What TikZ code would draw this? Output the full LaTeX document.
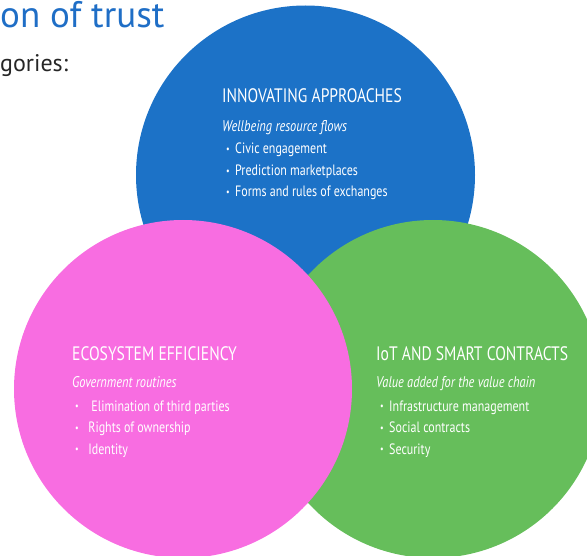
\documentclass[tikz,border=0pt]{standalone}
\usepackage{fontspec}
\setmainfont[FakeStretch=0.8]{PT Sans}
\newfontfamily\wideface{PT Sans}
\definecolor{innoblue}{HTML}{1C72C7}
\definecolor{ecopink}{HTML}{F86DE1}
\definecolor{iotgreen}{HTML}{66BE5B}
\definecolor{titleblue}{HTML}{1F6EC6}
\newcommand{\itemdot}[1][9]{\makebox[#1pt][l]{\raisebox{1.2pt}{\fontsize{10}{10}\selectfont\textbullet}}}

\begin{document}
\begin{tikzpicture}[x=1pt, y=-1pt,
    head/.style={anchor=base west, text=white, inner sep=0pt, font=\fontsize{19.5}{19.5}\selectfont},
    sub/.style={anchor=base west, text=white, inner sep=0pt, font=\fontsize{15.5}{15.5}\selectfont\itshape},
    item/.style={anchor=base west, text=white, inner sep=0pt, font=\fontsize{15}{15}\selectfont}]

    \useasboundingbox (0, 0) rectangle (587, 556);
    \clip (0, 0) rectangle (587, 556);

    % the three circles
    \fill[innoblue] (305.5, 175) circle (169.5);
    \fill[iotgreen] (433, 389) circle (169);
    \fill[ecopink]  (183, 389) circle (169);

    % title remains
    \node[anchor=base west, inner sep=0pt, text=titleblue, font=\wideface\fontsize{37}{37}\selectfont] (title) at (0, 28) {on of trust};
    \node[anchor=base west, inner sep=0pt, text=black!85, font=\wideface\fontsize{24}{24}\selectfont] (cat) at (0, 72) {gories:};

    % innovating approaches
    \node[head] (inno) at (222, 103) {INNOVATING APPROACHES};
    \node[sub]  (innosub) at (222, 132) {Wellbeing resource flows};
    \node[item] (civic) at (226, 154) {\itemdot Civic engagement};
    \node[item] (pred)  at (226, 175.5) {\itemdot Prediction marketplaces};
    \node[item] (forms) at (226, 197) {\itemdot Forms and rules of exchanges};

    % ecosystem efficiency
    \node[head] (eco) at (72, 361) {ECOSYSTEM EFFICIENCY};
    \node[sub]  (ecosub) at (72, 388) {Government routines};
    \node[item] (elim)  at (75, 411) {\itemdot[13] Elimination of third parties};
    \node[item] (owner) at (75, 432.5) {\itemdot[10] Rights of ownership};
    \node[item] (ident) at (75, 454) {\itemdot[10] Identity};

    % iot and smart contracts
    \node[head] (iot) at (376, 361) {IoT AND SMART CONTRACTS};
    \node[sub]  (iotsub) at (376, 388) {Value added for the value chain};
    \node[item] (infra)  at (380, 411) {\itemdot Infrastructure management};
    \node[item] (social) at (380, 432.5) {\itemdot Social contracts};
    \node[item] (secur)  at (380, 454) {\itemdot Security};

\end{tikzpicture}
\end{document}
